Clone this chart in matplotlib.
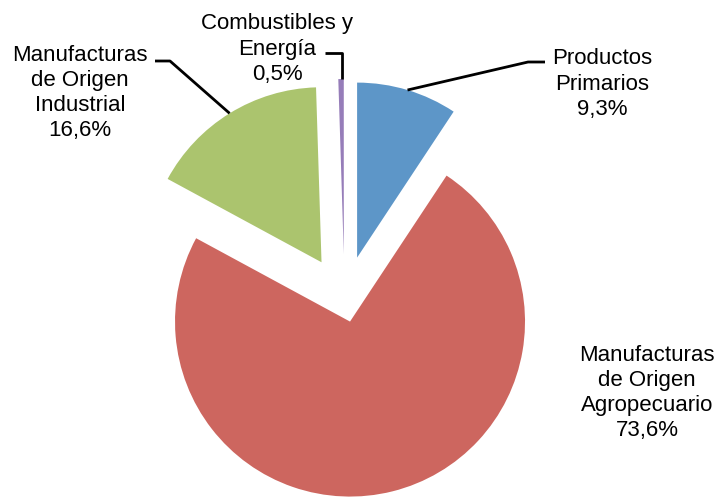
import numpy as np
from matplotlib import pyplot as plt

plt.rcParams['font.family'] = ['Liberation Sans', 'DejaVu Sans']

# share of exports by category (%), clockwise from the top
labels = ['Productos\nPrimarios', 'Manufacturas\nde Origen\nAgropecuario',
          'Manufacturas\nde Origen\nIndustrial', 'Combustibles y\nEnergía']
shares = [9.3, 73.6, 16.6, 0.5]
colors = ['#5D96C8', '#CD665F', '#ABC46E', '#967DB9']
explode = [0.25, 0.13, 0.25, 0.26]

W, H = 718, 499
R = 175
fig = plt.figure(figsize=(W / 100, H / 100), dpi=100)
ax = fig.add_axes([0, 0, 1, 1])

def px(x, y):
    # pixel position (y from top) -> data coords
    return (x, H - y)

# explode in matplotlib is in data units, so scale by the radius
wedges, _ = ax.pie(shares, colors=colors, explode=[e * R for e in explode],
                   startangle=90, counterclock=False, radius=R,
                   center=px(344.5, 299.5), wedgeprops=dict(linewidth=0),
                   frame=True)
ax.set_xlim(0, W)
ax.set_ylim(0, H)
ax.set_aspect('equal')
ax.axis('off')

def arc_mid(w):
    a = np.deg2rad((w.theta1 + w.theta2) / 2)
    cx, cy = w.center
    return (cx + w.r * np.cos(a), cy + w.r * np.sin(a))

fs = 16
# label text position (pixels) and leader elbow points
text_pos = [(602, 84), (647, 393), (80, 93), (277, 49)]
leaders = [[(545, 62), (528, 62)], None,
           [(155, 61), (170, 61)], [(325, 53), (342, 53)]]

for i, w in enumerate(wedges):
    pct = ('%.1f%%' % shares[i]).replace('.', ',')
    ax.text(*px(*text_pos[i]), labels[i] + '\n' + pct, ha='center', va='center',
            fontsize=fs, linespacing=1.27, color='black')
    if leaders[i] is not None:
        pts = [px(*p) for p in leaders[i]] + [arc_mid(w)]
        if i == 3:
            pts[-1] = (pts[-2][0], arc_mid(w)[1])
        xs, ys = zip(*pts)
        ax.plot(xs, ys, color='black', lw=2, solid_capstyle='butt')

plt.savefig('out.png', dpi=100)
